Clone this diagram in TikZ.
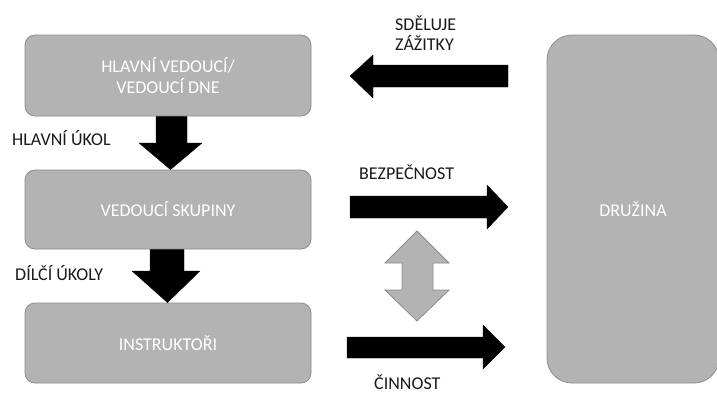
\documentclass[tikz,border=0pt]{standalone}
\usepackage{fontspec}
\setmainfont{Carlito}
\definecolor{boxfill}{HTML}{B3B3B3}
\definecolor{boxline}{HTML}{8C8C8C}
\definecolor{labeltext}{HTML}{1A1A1A}
\begin{document}
\begin{tikzpicture}[x=1pt,y=-1pt,
  box/.style={draw=boxline, line width=0.8pt, fill=boxfill, rounded corners=10pt, text=white,
    font=\fontsize{18}{21.7}\selectfont, align=center, inner sep=0pt},
  lbl/.style={text=labeltext, font=\fontsize{18}{20.5}\selectfont, inner sep=0pt, anchor=base west, align=left},
  blockarrow/.style={fill=black, draw=black, line width=0.3pt},
  grayarrow/.style={fill=boxfill, draw=boxline, line width=0.8pt, line join=miter}]
\path[use as bounding box, clip] (0,0) rectangle (717,394);
\fill[white] (0,0) rectangle (717,394);

% boxes
\node[box, minimum width=286pt, minimum height=81pt] (b1) at (168,75.5) {HLAVNÍ VEDOUCÍ/\\VEDOUCÍ DNE};
\node[box, minimum width=286pt, minimum height=79pt] (b2) at (168,209.5) {VEDOUCÍ SKUPINY};
\node[box, minimum width=286pt, minimum height=80pt] (b3) at (168,343) {INSTRUKTOŘI};
\node[box, rounded corners=25pt, minimum width=172pt, minimum height=348pt] (dr) at (633,209) {DRUŽINA};

% down arrows
\fill[blockarrow] (156,0 |- b1.south) -- (187,0 |- b1.south) -- (187,143) -- (202,143)
  -- (170.5,0 |- b2.north) -- (139,143) -- (156,143) -- cycle;
\fill[blockarrow] (150,0 |- b2.south) -- (184,0 |- b2.south) -- (184,271) -- (200,271)
  -- (167.5,0 |- b3.north) -- (132,271) -- (150,271) -- cycle;

% left arrow (towards b1)
\fill[blockarrow] (508,65) -- (373,65) -- (373,55) -- (350,76) -- (373,98) -- (373,87) -- (508,87) -- cycle;

% right arrows (towards druzina)
\fill[blockarrow] (350,196) -- (487,196) -- (487,185) -- (508,207) -- (487,229) -- (487,218) -- (350,218) -- cycle;
\fill[blockarrow] (347,337) -- (483,337) -- (483,325) -- (505,347) -- (483,369) -- (483,358) -- (347,358) -- cycle;

% gray double arrow
\filldraw[grayarrow] (417,231) -- (449,263) -- (433,263) -- (433,290) -- (449,290) -- (417,321)
  -- (385,290) -- (402,290) -- (402,263) -- (385,263) -- cycle;

% labels
\node[lbl] (l1) at (12,145.5) {HLAVNÍ ÚKOL};
\node[lbl] (l2) at (15,280) {DÍLČÍ ÚKOLY};
\node[lbl] (l3) at (395,50.7) {SDĚLUJE\\ZÁŽITKY};
\node[lbl] (l4) at (359,179) {BEZPEČNOST};
\node[lbl] (l5) at (374,389.5) {ČINNOST};
\end{tikzpicture}
\end{document}
